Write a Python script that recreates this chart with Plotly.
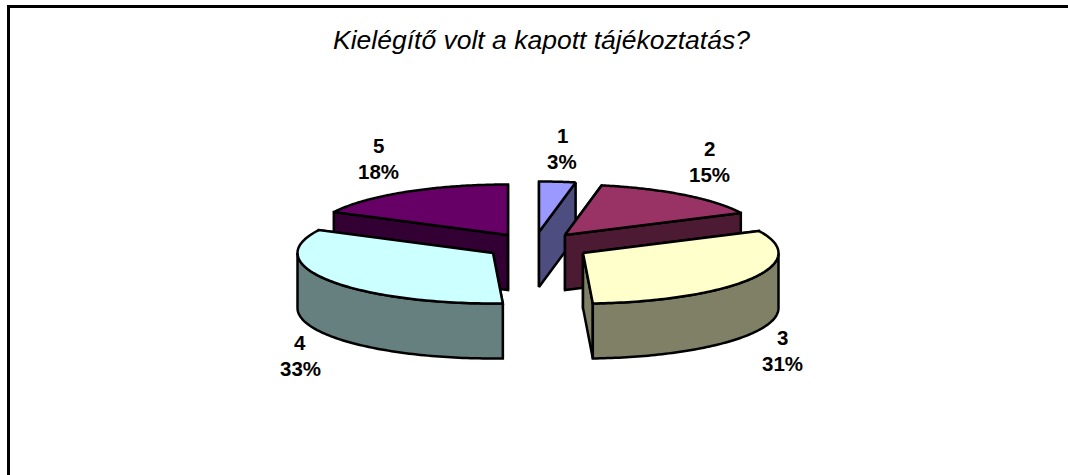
import numpy as np
import plotly.graph_objects as go

title = "Kielégítő volt a kapott tájékoztatás?"
categories = ["1", "2", "3", "4", "5"]
percent = [3.0, 14.8, 31.4, 33.3, 17.5]

top_colors = ["#9999FF", "#993366", "#FFFFCC", "#CCFFFF", "#660066"]
side_colors = ["#4D4D80", "#4D1A33", "#808066", "#668080", "#330033"]

# Layout of the exploded 3D pie, in pixels of the canvas
W, H = 1068, 475
centres = [(539, 232), (565, 235), (583, 253), (493, 253), (508, 235)]
RX, RY, DEPTH = 195.5, 50.5, 55
paint_order = [0, 4, 1, 3, 2]
label_pos = [(562, 135), (709, 148), (782, 337), (300, 342), (378, 145)]
LINE_GAP = 26.5


def point(c, deg):
    a = np.radians(deg)
    return c[0] + RX * np.sin(a), c[1] - RY * np.cos(a)


fig = go.Figure()


def poly(xs, ys, color):
    fig.add_trace(go.Scatter(
        x=list(xs) + [xs[0]], y=list(ys) + [ys[0]], mode="lines", fill="toself",
        fillcolor=color, line=dict(color="black", width=2.5, simplify=False),
        hoverinfo="skip", showlegend=False,
    ))


cum = np.cumsum([0] + percent) * 3.6
for i in paint_order:
    c, a0, a1 = centres[i], cum[i], cum[i + 1]
    # radial walls
    for a in (a0, a1):
        px, py = point(c, a)
        poly([c[0], px, px, c[0]], [c[1], py, py + DEPTH, c[1] + DEPTH], side_colors[i])
    # outer wall: only the part that faces the viewer
    lo, hi = max(a0, 90), min(a1, 270)
    if hi > lo:
        t = np.linspace(lo, hi, 80)
        px, py = point(c, t)
        poly(np.r_[px, px[::-1]], np.r_[py, py[::-1] + DEPTH], side_colors[i])
    # top face
    t = np.linspace(a0, a1, 100)
    px, py = point(c, t)
    poly(np.r_[c[0], px], np.r_[c[1], py], top_colors[i])

font = "Liberation Sans, Arial, sans-serif"
for cat, p, (x, y) in zip(categories, percent, label_pos):
    for txt, yy in ((cat, y), (f"{round(p + 1e-9)}%", y + LINE_GAP)):
        fig.add_annotation(x=x, y=yy, text=f"<b>{txt}</b>", showarrow=False,
                           font=dict(family=font, size=20.5, color="black"),
                           xanchor="center", yanchor="middle")

fig.add_annotation(x=541.5, y=40, text=f"<i>{title}</i>", showarrow=False,
                   font=dict(family=font, size=26.5, color="black"),
                   xanchor="center", yanchor="middle")

frame = dict(color="black", width=3)
fig.add_shape(type="line", x0=8.5, x1=W, y0=6.5, y1=6.5, line=frame)
fig.add_shape(type="line", x0=8.5, x1=8.5, y0=5, y1=H, line=frame)

fig.update_layout(
    width=W, height=H, margin=dict(l=0, r=0, t=0, b=0),
    paper_bgcolor="white", plot_bgcolor="white", showlegend=False,
    xaxis=dict(range=[0, W], visible=False, fixedrange=True),
    yaxis=dict(range=[H, 0], visible=False, fixedrange=True),
)
fig.write_html("out.html", post_script="document.body.style.margin='0';document.body.style.overflow='hidden';",
               config={"displayModeBar": False})
